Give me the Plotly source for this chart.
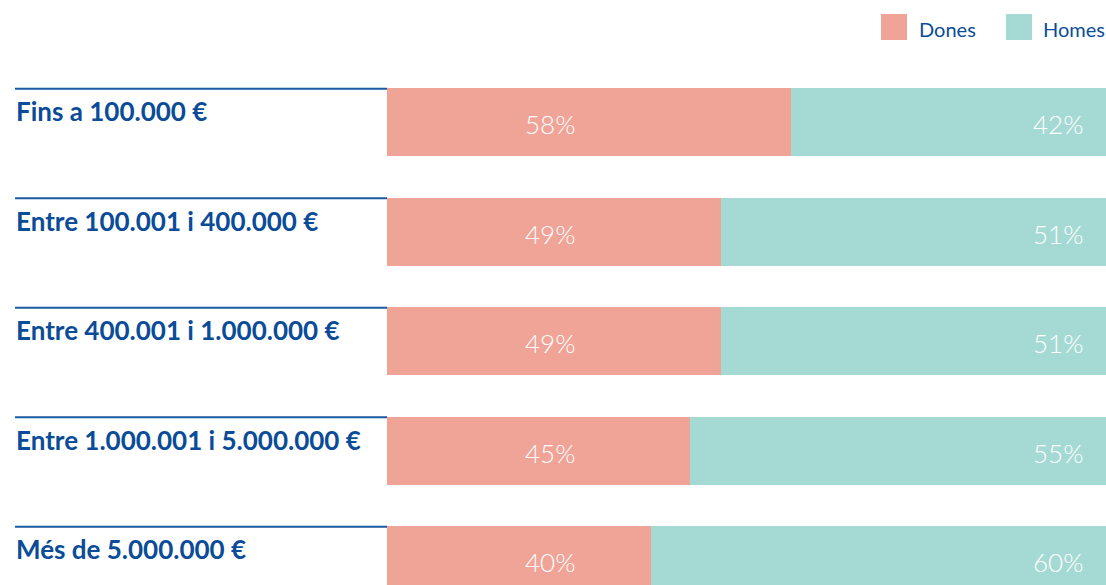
import plotly.graph_objects as go

# Income brackets and share of women / men in each
brackets = [
    "Fins a 100.000 €",
    "Entre 100.001 i 400.000 €",
    "Entre 400.001 i 1.000.000 €",
    "Entre 1.000.001 i 5.000.000 €",
    "Més de 5.000.000 €",
]
dones = [58, 49, 49, 45, 40]
homes = [42, 51, 51, 55, 60]

COL_DONES = "#F0A497"
COL_HOMES = "#A5DAD4"
BLUE = "#0A4C98"
LINE_BLUE = "#1B5AA3"

W, H = 1106, 585
idx = list(range(len(brackets)))
BAR_W = 0.621

fig = go.Figure()
fig.add_trace(go.Bar(
    y=idx, x=dones, orientation="h", name="Dones",
    marker=dict(color=COL_DONES, line=dict(width=0)), width=BAR_W,
    hoverinfo="skip", showlegend=False,
))
fig.add_trace(go.Bar(
    y=idx, x=homes, orientation="h", name="Homes",
    marker=dict(color=COL_HOMES, line=dict(width=0)), width=BAR_W,
    hoverinfo="skip", showlegend=False,
))

annotations = []
shapes = []
for i, (lab, d, h) in enumerate(zip(brackets, dones, homes)):
    top = i - BAR_W / 2
    # rule above each bracket name
    shapes.append(dict(type="line", xref="paper", yref="y",
                       x0=15 / W, x1=387 / W, y0=top + 0.006, y1=top + 0.006,
                       line=dict(color=LINE_BLUE, width=2)))
    annotations.append(dict(
        text=f"<b>{lab}</b>", xref="paper", yref="y", x=14 / W, y=top,
        xanchor="left", yanchor="top", yshift=-5, showarrow=False,
        font=dict(family="Lato", size=26, color=BLUE),
    ))
    annotations.append(dict(
        text=f"{d}%", xref="x", yref="y", x=27.0, y=i, yshift=-2,
        xanchor="center", yanchor="middle", showarrow=False,
        font=dict(family="Lato", size=26, color="white", weight=300),
    ))
    annotations.append(dict(
        text=f"{h}%", xref="x", yref="y", x=92.3, y=i, yshift=-2,
        xanchor="center", yanchor="middle", showarrow=False,
        font=dict(family="Lato", size=26, color="white", weight=300),
    ))

# legend swatches and names
for name, col, sx, tx in [("Dones", COL_DONES, 881, 917), ("Homes", COL_HOMES, 1006, 1041)]:
    shapes.append(dict(type="rect", xref="paper", yref="paper",
                       x0=sx / W, x1=(sx + 26) / W, y0=1 - 40 / H, y1=1 - 14 / H,
                       fillcolor=col, line=dict(width=0)))
    annotations.append(dict(
        text=name, xref="paper", yref="paper", x=tx / W, y=1 - 29 / H,
        xanchor="left", yanchor="middle", showarrow=False,
        font=dict(family="Lato", size=20, color=BLUE),
    ))

fig.update_layout(
    width=W, height=H,
    barmode="stack",
    bargap=0,
    margin=dict(l=0, r=0, t=0, b=0),
    paper_bgcolor="white",
    plot_bgcolor="white",
    xaxis=dict(domain=[387 / W, 1], range=[6.04, 98.46], visible=False, fixedrange=True),
    yaxis=dict(range=[4.228, -1.114], visible=False, fixedrange=True),
    shapes=shapes,
    annotations=annotations,
    showlegend=False,
)

fig.write_html("out.html")
